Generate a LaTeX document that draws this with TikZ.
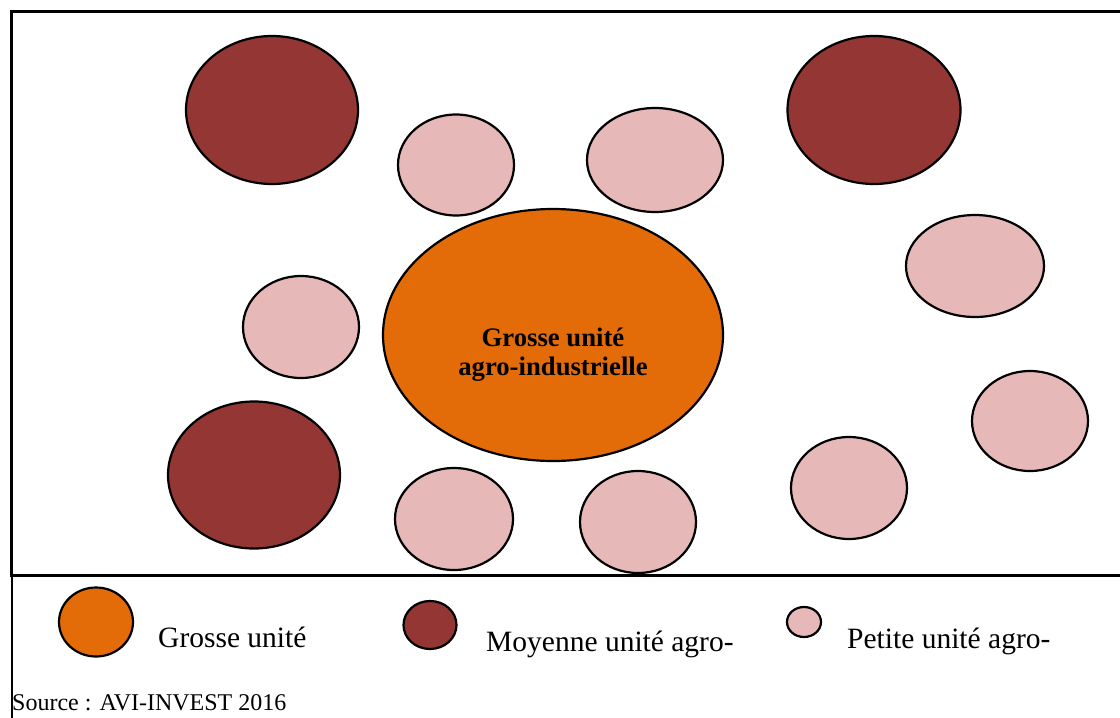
\documentclass[tikz,border=0pt]{standalone}
\usepackage{fontspec}
\setmainfont{Liberation Serif}
\usetikzlibrary{shapes.geometric}
\definecolor{darkred}{HTML}{943634}
\definecolor{pinku}{HTML}{E6B8B7}
\definecolor{orangeu}{HTML}{E36C09}
\tikzset{
  unit/.style={ellipse, draw=black, line width=2.2pt, inner sep=0pt},
  big/.style={unit, fill=orangeu},
  mid/.style={unit, fill=darkred},
  small/.style={unit, fill=pinku},
  legtext/.style={anchor=base west, inner sep=0pt, font=\fontsize{29.5}{34}\selectfont},
  centertext/.style={anchor=base, inner sep=0pt, font=\fontsize{26.7}{30}\selectfont\bfseries},
}
\begin{document}
\begin{tikzpicture}[x=1pt,y=-1pt]
\useasboundingbox (0,0) rectangle (1120,718);
\fill[white] (0,0) rectangle (1120,718);
% frame
\draw[line width=3.5pt] (1120,11.5) -- (11.5,11.5) -- (11.5,576);
\draw[line width=3pt] (10,575.5) -- (1120,575.5);
\draw[line width=1.5pt] (12,575) -- (12,718);
% medium units
\node[mid, minimum width=172pt, minimum height=148pt] (m1) at (272,110) {};
\node[mid, minimum width=173pt, minimum height=148pt] (m2) at (874,110) {};
\node[mid, minimum width=172pt, minimum height=147pt] (m3) at (254,475) {};
% small units
\node[small, minimum width=116pt, minimum height=101pt] (s1) at (456,165) {};
\node[small, minimum width=136pt, minimum height=104pt] (s2) at (655,160) {};
\node[small, minimum width=138pt, minimum height=102pt] (s3) at (975,266) {};
\node[small, minimum width=116pt, minimum height=102pt] (s4) at (301,327) {};
\node[small, minimum width=116pt, minimum height=100pt] (s5) at (1030,421) {};
\node[small, minimum width=116pt, minimum height=102pt] (s6) at (849,488) {};
\node[small, minimum width=118pt, minimum height=102pt] (s7) at (454,519) {};
\node[small, minimum width=116pt, minimum height=102pt] (s8) at (638,522) {};
% big unit
\node[big, minimum width=340pt, minimum height=252pt] (g) at (553,335) {};
\node[centertext] (gt1) at (553,346) {Grosse unité};
\node[centertext] (gt2) at (553,375) {agro-industrielle};
% legend
\node[big, minimum width=74pt, minimum height=69pt] (lg) at (96,622) {};
\node[legtext] (lgt) at (158,647) {Grosse unité};
\node[mid, minimum width=53pt, minimum height=48pt] (lm) at (430,625) {};
\node[legtext] (lmt) at (486,651) {Moyenne unité agro-};
\node[small, minimum width=34pt, minimum height=30pt] (ls) at (804,622) {};
\node[legtext] (lst) at (847,648) {Petite unité agro-};
\node[legtext, font=\fontsize{24}{28}\selectfont] (src) at (12,710) {Source : AVI-INVEST 2016};
\end{tikzpicture}
\end{document}
